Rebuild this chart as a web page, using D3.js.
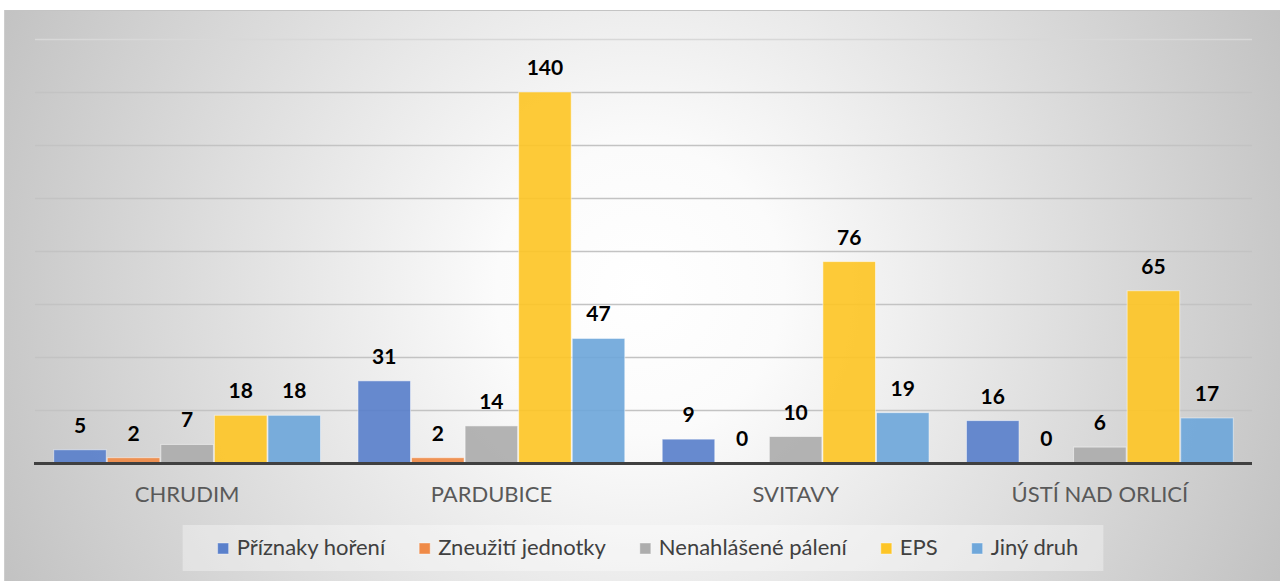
<!DOCTYPE html>
<html>
<head>
<meta charset="utf-8">
<script src="https://cdn.jsdelivr.net/npm/d3@7"></script>
<style>
  html, body { margin: 0; padding: 0; background: #fff; }
  svg { display: block; }
</style>
</head>
<body>
<svg id="canvas" width="1280" height="581"></svg>
<script>
const districts = ["CHRUDIM", "PARDUBICE", "SVITAVY", "ÚSTÍ NAD ORLICÍ"];
const series = ["Příznaky hoření", "Zneužití jednotky", "Nenahlášené pálení", "EPS", "Jiný druh"];
const colors = ["#5a80cb", "#ef8a47", "#adadad", "#fdc527", "#6fa7da"];

const priznaky = [5, 31, 9, 16];
const zneuziti = [2, 2, 0, 0];
const nenahlasene = [7, 14, 10, 6];
const eps = [18, 140, 76, 65];
const jiny = [18, 47, 19, 17];

const values = [priznaky, zneuziti, nenahlasene, eps, jiny];
const yTicks = [0, 20, 40, 60, 80, 100, 120, 140, 160];

const svg = d3.select("svg#canvas");
const font = "Lato, 'Open Sans', sans-serif";

// background gradient
const defs = svg.append("defs");
const grad = defs.append("radialGradient")
    .attr("id", "bg")
    .attr("gradientUnits", "userSpaceOnUse")
    .attr("cx", 640).attr("cy", 290).attr("r", 720);
grad.append("stop").attr("offset", "0%").attr("stop-color", "#ffffff");
grad.append("stop").attr("offset", "20%").attr("stop-color", "#fbfbfb");
grad.append("stop").attr("offset", "100%").attr("stop-color", "#c0c0c0");

svg.append("rect")
    .attr("x", 4).attr("y", 10)
    .attr("width", 1290).attr("height", 580)
    .attr("fill", "url(#bg)");
svg.append("line")
    .attr("x1", 4).attr("x2", 1280)
    .attr("y1", 10.5).attr("y2", 10.5)
    .attr("stroke", "#c4c4c4");
svg.append("line")
    .attr("x1", 4.5).attr("x2", 4.5)
    .attr("y1", 10).attr("y2", 581)
    .attr("stroke", "#cdcdcd");

const x0 = d3.scaleBand()
    .domain(districts)
    .range([35, 1252]);

const x1 = d3.scaleBand()
    .domain(series)
    .range([0, x0.bandwidth()])
    .paddingInner(0)
    .paddingOuter(0.34);

const y = d3.scaleLinear()
    .domain([0, 160])
    .range([463, 39]);

// gridlines
svg.append("g")
    .selectAll("line")
    .data(yTicks.filter(d => d > 0))
    .join("line")
    .attr("x1", 35).attr("x2", 1252)
    .attr("y1", d => Math.round(y(d)) + 0.5)
    .attr("y2", d => Math.round(y(d)) + 0.5)
    .attr("stroke", d => d == 160 ? "#d8d8d8" : "#c3c3c3")
    .attr("stroke-width", 1.3);

// bars
const groups = svg.append("g")
    .selectAll("g")
    .data(districts)
    .join("g")
    .attr("transform", d => `translate(${x0(d)},0)`);

groups.selectAll("rect")
    .data((d, i) => series.map((s, j) => ({ s: s, v: values[j][i], c: colors[j] })))
    .join("rect")
    .attr("x", d => x1(d.s) + 0.5)
    .attr("width", x1.bandwidth() - 1)
    .attr("y", d => y(d.v))
    .attr("height", d => y(0) - y(d.v))
    .attr("fill", d => d.c)
    .attr("fill-opacity", 0.92)
    .attr("stroke", "#ffffff")
    .attr("stroke-opacity", 0.5)
    .attr("stroke-width", 1);

groups.selectAll("text")
    .data((d, i) => series.map((s, j) => ({ s: s, v: values[j][i] })))
    .join("text")
    .attr("x", d => x1(d.s) + x1.bandwidth() / 2)
    .attr("y", d => y(d.v) - 17)
    .attr("text-anchor", "middle")
    .attr("font-family", font)
    .attr("font-weight", "bold")
    .attr("font-size", 21)
    .attr("fill", "#000")
    .text(d => d.v);

// axis line
svg.append("line")
    .attr("x1", 34).attr("x2", 1252)
    .attr("y1", y(0) + 0.5).attr("y2", y(0) + 0.5)
    .attr("stroke", "#404040")
    .attr("stroke-width", 3);

// category labels
svg.append("g")
    .selectAll("text")
    .data(districts)
    .join("text")
    .attr("x", d => x0(d) + x0.bandwidth() / 2)
    .attr("y", 502)
    .attr("text-anchor", "middle")
    .attr("font-family", font)
    .attr("font-size", 22)
    .attr("fill", "#595959")
    .text(d => d);

// legend
const legendBox = svg.append("rect")
    .attr("fill", "#ffffff")
    .attr("fill-opacity", 0.35);
const legend = svg.append("g");
const items = legend.selectAll("g")
    .data(series)
    .join("g");
items.append("rect")
    .attr("width", 11).attr("height", 11)
    .attr("y", 543)
    .attr("fill", (d, i) => colors[i])
    .attr("stroke", "#ffffff")
    .attr("stroke-opacity", 0.4);
items.append("text")
    .attr("x", 19)
    .attr("y", 555)
    .attr("font-family", font)
    .attr("font-size", 22)
    .attr("fill", "#404040")
    .text(d => d);

let pos = 0;
const starts = [];
items.each(function () {
    starts.push(pos);
    const w = d3.select(this).select("text").node().getComputedTextLength();
    pos += 19 + w + 34;
});
const total = pos - 34;
const left = 648 - total / 2;
items.attr("transform", (d, i) => `translate(${left + starts[i]},0)`);
legendBox
    .attr("x", left - 35).attr("y", 525)
    .attr("width", total + 60).attr("height", 46);
</script>
</body>
</html>
